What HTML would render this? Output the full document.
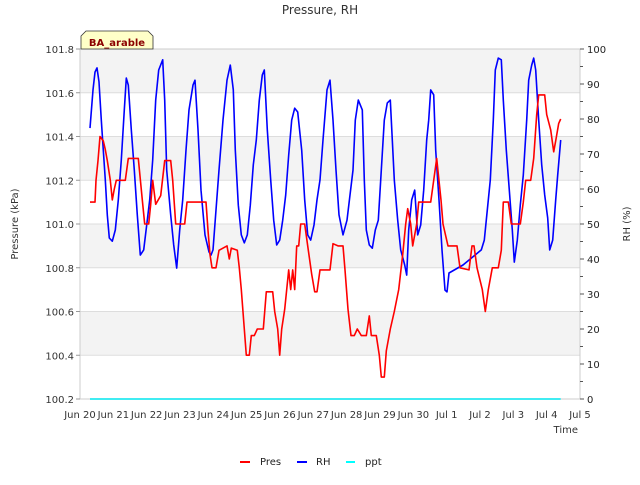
<!DOCTYPE html>
<html><head><meta charset="utf-8"><style>
body{margin:0;background:#fff;}
svg{font-family:"DejaVu Sans","Liberation Sans",sans-serif;}
</style></head><body>
<svg id="chart" width="640" height="480" viewBox="0 0 640 480">
<rect width="640" height="480" fill="#fff"/>
<text x="320" y="14" text-anchor="middle" font-size="12" fill="#333">Pressure, RH</text>
<g id="bands"></g>
<g id="grid"></g>
<rect x="80" y="49" width="500" height="350" fill="none" stroke="#ccc"/>
<g id="axes"></g>
<g id="series"></g>
<text transform="translate(18,224) rotate(-90)" text-anchor="middle" font-size="10" fill="#333">Pressure (kPa)</text>
<text transform="translate(630,224) rotate(-90)" text-anchor="middle" font-size="10" fill="#333">RH (%)</text>
<text x="578" y="433" text-anchor="end" font-size="10" fill="#333">Time</text>
<g>
<path d="M81,49 L81,36 L86,31 L148,31 L153,36 L153,49 Z" fill="#ffffc8" stroke="#333" stroke-width="0.8"/>
<text x="117" y="46" text-anchor="middle" font-size="10" font-weight="bold" fill="#8b0000">BA_arable</text>
</g>
<g>
<g><line x1="240" y1="462" x2="250" y2="462" stroke="#f00" stroke-width="2"/><text x="260" y="465" font-size="10" fill="#222">Pres</text></g>
<g><line x1="297" y1="462" x2="307" y2="462" stroke="#00f" stroke-width="2"/><text x="316" y="465" font-size="10" fill="#222">RH</text></g>
<g><line x1="346" y1="462" x2="355" y2="462" stroke="#0ff" stroke-width="2"/><text x="365" y="465" font-size="10" fill="#222">ppt</text></g>
</g>
</svg>
<script>
const xTickLabels=["Jun 20","Jun 21","Jun 22","Jun 23","Jun 24","Jun 25","Jun 26","Jun 27","Jun 28","Jun 29","Jun 30","Jul 1","Jul 2","Jul 3","Jul 4","Jul 5"];
const presTicks=[100.2,100.4,100.6,100.8,101.0,101.2,101.4,101.6,101.8];
const presTickLabels=["100.2","100.4","100.6","100.8","101.0","101.2","101.4","101.6","101.8"];
const rhTicks=[0,10,20,30,40,50,60,70,80,90,100];
const rhTime=[0.30,0.39,0.45,0.51,0.57,0.64,0.70,0.76,0.82,0.88,0.97,1.06,1.15,1.24,1.33,1.39,1.45,1.54,1.63,1.72,1.81,1.91,2.00,2.09,2.18,2.27,2.36,2.48,2.54,2.60,2.72,2.81,2.90,2.99,3.08,3.18,3.27,3.39,3.45,3.54,3.63,3.75,3.87,3.93,3.99,4.08,4.17,4.29,4.41,4.51,4.60,4.66,4.75,4.84,4.93,5.02,5.11,5.20,5.29,5.38,5.47,5.53,5.62,5.72,5.81,5.90,5.99,6.08,6.17,6.26,6.35,6.44,6.53,6.65,6.74,6.83,6.92,7.02,7.11,7.20,7.29,7.41,7.50,7.59,7.68,7.77,7.89,8.01,8.10,8.19,8.26,8.35,8.47,8.53,8.59,8.68,8.77,8.86,8.95,9.04,9.13,9.22,9.31,9.37,9.43,9.53,9.62,9.74,9.80,9.86,9.95,10.04,10.13,10.22,10.31,10.40,10.46,10.52,10.61,10.67,10.77,10.86,10.95,11.01,11.07,11.49,12.04,12.13,12.22,12.31,12.40,12.46,12.55,12.64,12.70,12.79,12.88,12.97,13.03,13.12,13.21,13.30,13.40,13.46,13.55,13.61,13.67,13.76,13.85,13.94,14.03,14.09,14.18,14.27,14.33,14.42];
const rhValues=[77.4,88.3,93.4,94.6,90.6,79.7,71.1,62.6,52.6,46,45.1,48.3,56.9,68.3,82.6,91.7,89.7,76.9,65.4,52.6,41.1,42.6,49.7,56.9,68.3,85.4,94,96.9,85.4,65.4,52.6,44,37.4,48.3,56.9,71.1,82.6,89.7,91.1,76.9,59.7,46.9,42,41.1,42.6,54,65.4,79.7,91.1,95.4,88.3,71.1,55.4,46.9,44.6,46.9,55.4,66.9,74,85.4,92.6,94,76.9,62.6,51.1,44,45.4,51.1,58.3,69.7,79.7,83.1,82,71.1,56.9,46.9,45.4,49.7,56.9,62.6,74,88.3,91.1,79.7,65.4,52.6,46.9,51.1,58.3,65.4,79.7,85.4,82.6,62.6,48.3,44,43.1,48.3,51.1,65.4,79.7,84.6,85.4,74,62.6,51.1,42.6,38.3,35.4,48.3,56.9,59.7,46.9,49.7,59.7,74,79.7,88.3,86.9,71.1,56.9,42.6,31.1,30.6,36,38.3,42.6,45.4,54,62.6,79.7,94,97.4,96.9,85.4,71.1,59.7,48.3,39.1,45.4,55.4,64,79.7,91.1,95.4,97.4,94,79.7,66.9,58.3,51.7,42.6,45.4,56.9,64,74];
const presTime=[0.30,0.45,0.48,0.54,0.60,0.70,0.76,0.82,0.91,0.97,1.03,1.09,1.36,1.45,1.75,1.87,1.94,2.06,2.12,2.18,2.27,2.42,2.54,2.72,2.78,2.87,3.14,3.21,3.78,3.84,3.90,3.96,4.08,4.17,4.41,4.48,4.54,4.72,4.78,4.84,4.93,4.99,5.08,5.14,5.23,5.32,5.50,5.59,5.78,5.84,5.93,5.99,6.05,6.14,6.26,6.32,6.38,6.44,6.50,6.56,6.62,6.74,6.83,6.95,7.04,7.11,7.20,7.50,7.59,7.74,7.89,7.95,8.04,8.13,8.23,8.32,8.44,8.59,8.68,8.74,8.89,8.98,9.04,9.13,9.19,9.31,9.43,9.56,9.68,9.77,9.83,9.92,9.98,10.10,10.16,10.52,10.61,10.70,10.83,10.89,11.04,11.31,11.40,11.67,11.76,11.82,11.91,12.07,12.16,12.25,12.37,12.55,12.64,12.70,12.85,12.94,13.21,13.30,13.37,13.52,13.61,13.70,13.76,13.94,14.00,14.12,14.21,14.27,14.36,14.42];
const presValues=[101.10,101.10,101.20,101.29,101.40,101.38,101.34,101.29,101.20,101.11,101.16,101.20,101.20,101.30,101.30,101.11,101.00,101.00,101.09,101.20,101.09,101.13,101.29,101.29,101.20,101.00,101.00,101.10,101.10,100.97,100.86,100.80,100.80,100.88,100.90,100.84,100.89,100.88,100.80,100.70,100.52,100.40,100.40,100.49,100.49,100.52,100.52,100.69,100.69,100.60,100.52,100.40,100.52,100.61,100.79,100.70,100.79,100.70,100.90,100.90,101.00,101.00,100.90,100.77,100.69,100.69,100.79,100.79,100.91,100.90,100.90,100.79,100.61,100.49,100.49,100.52,100.49,100.49,100.58,100.49,100.49,100.40,100.30,100.30,100.42,100.52,100.60,100.70,100.86,101.00,101.07,101.00,100.90,101.00,101.10,101.10,101.20,101.30,101.11,101.00,100.90,100.90,100.80,100.79,100.90,100.90,100.80,100.70,100.60,100.70,100.80,100.80,100.88,101.10,101.10,101.00,101.00,101.10,101.20,101.20,101.30,101.50,101.59,101.59,101.50,101.43,101.33,101.38,101.46,101.48];
const pptTime=[0.30,14.42];
const pptValues=[0,0];

const NS="http://www.w3.org/2000/svg";
const X0=80,X1=580,Y0=399,Y1=49;
function xScale(d){return X0+d*(X1-X0)/15;}
function yPres(p){return Y0-(p-100.2)/1.6*(Y0-Y1);}
function yRh(r){return Y0-r/100*(Y0-Y1);}
function mk(tag,attrs,parent){const e=document.createElementNS(NS,tag);for(const k in attrs)e.setAttribute(k,attrs[k]);parent.appendChild(e);return e;}
const bands=document.getElementById('bands'),grid=document.getElementById('grid'),axes=document.getElementById('axes'),series=document.getElementById('series');
for(let i=0;i<presTicks.length-1;i++){
  if(i%2===0){
    const top=yPres(presTicks[presTicks.length-1-i]),bot=yPres(presTicks[presTicks.length-2-i]);
    const r=mk('rect',{x:X0,y:top,width:X1-X0,height:bot-top,fill:'#f3f3f3'},bands);
    
    
  }
}
presTicks.forEach((p,i)=>{
  const y=yPres(p);
  const l=mk('line',{x1:X0,x2:X1,y1:y,y2:y,stroke:'#ddd','stroke-width':1},grid);
  
  
  mk('line',{x1:X0-4,x2:X0,y1:y,y2:y,stroke:'#999'},axes);
  const t=mk('text',{x:X0-6,y:y+4,'text-anchor':'end','font-size':10,fill:'#333'},axes);
  t.textContent=presTickLabels[i];
  
  
});
rhTicks.forEach(r=>{
  const y=yRh(r);
  mk('line',{x1:X1,x2:X1+4,y1:y,y2:y,stroke:'#555'},axes);
  if(r<100){const ym=yRh(r+5);mk('line',{x1:X1,x2:X1+3,y1:ym,y2:ym,stroke:'#555'},axes);}
  const t=mk('text',{x:X1+7,y:y+4,'font-size':10,fill:'#222'},axes);
  t.textContent=String(r);
  
  
});
xTickLabels.forEach((s,i)=>{
  const t=mk('text',{x:xScale(i),y:418,'text-anchor':'middle','font-size':10,fill:'#333'},axes);
  t.textContent=s;
  
  
});
function line(ts,vs,yf,color,w,name){
  const d=ts.map((t,i)=>(i?'L':'M')+xScale(t).toFixed(1)+','+yf(vs[i]).toFixed(1)).join(' ');
  const p=mk('path',{d:d,fill:'none',stroke:color,'stroke-width':w,'stroke-linejoin':'round'},series);
  
  
}
line(pptTime,pptValues,yRh,'#00e5ee',1.5,'ppt-line');
line(rhTime,rhValues,yRh,'#0000ff',1.6,'rh-line');
line(presTime,presValues,yPres,'#ff0000',1.6,'pres-line');
</script>
</body></html>
